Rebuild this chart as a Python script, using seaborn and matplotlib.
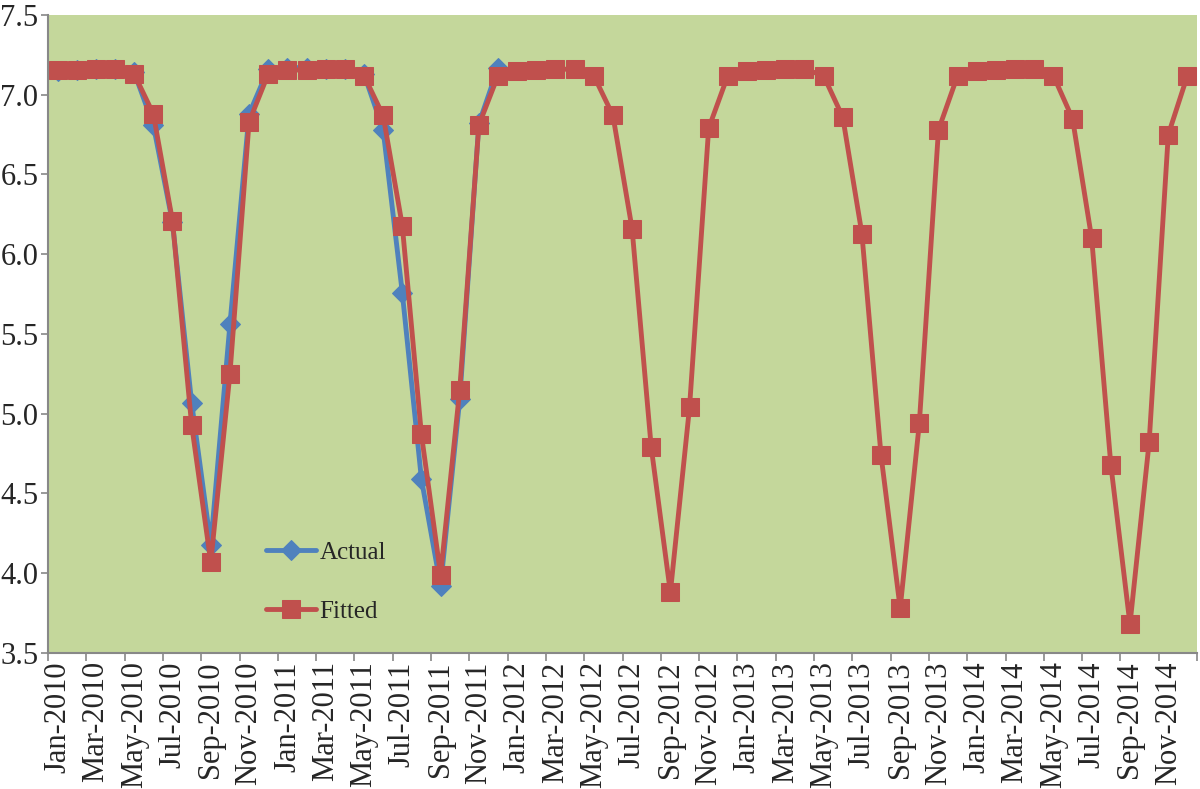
import numpy as np
import pandas as pd
import matplotlib
matplotlib.use('Agg')
import matplotlib.pyplot as plt
import seaborn as sns

months = pd.date_range('2010-01-01', '2014-12-01', freq='MS').strftime('%b-%Y').tolist()

actual = [7.15, 7.155, 7.16, 7.16, 7.14, 6.81, 6.20, 5.07, 4.18, 5.56, 6.88, 7.16,
          7.17, 7.17, 7.16, 7.16, 7.13, 6.78, 5.76, 4.59, 3.92, 5.09, 6.82, 7.17]

fitted = [7.155, 7.155, 7.16, 7.16, 7.13, 6.88, 6.21, 4.93, 4.07, 5.25, 6.83, 7.13,
          7.155, 7.155, 7.16, 7.16, 7.12, 6.87, 6.18, 4.87, 3.99, 5.15, 6.81, 7.12,
          7.15, 7.155, 7.16, 7.16, 7.12, 6.87, 6.16, 4.79, 3.88, 5.04, 6.79, 7.12,
          7.15, 7.155, 7.16, 7.16, 7.12, 6.86, 6.13, 4.74, 3.78, 4.94, 6.78, 7.12,
          7.15, 7.155, 7.16, 7.16, 7.12, 6.85, 6.10, 4.68, 3.68, 4.82, 6.75, 7.12]

df_act = pd.DataFrame({'idx': np.arange(len(actual)), 'value': actual})
df_fit = pd.DataFrame({'idx': np.arange(len(fitted)), 'value': fitted})

sns.set_style('white')
plt.rcParams['font.family'] = ['Liberation Serif', 'DejaVu Serif']

fig = plt.figure(figsize=(12, 7.89), dpi=100)
ax = fig.add_axes([0.04, 0.1724, 0.9575, 0.8086])
ax.set_facecolor('#C4D79B')

sns.lineplot(data=df_act, x='idx', y='value', ax=ax, color='#4F81BD', linewidth=3.5,
             marker='D', markersize=10, markeredgecolor='#4F81BD', label='Actual')
sns.lineplot(data=df_fit, x='idx', y='value', ax=ax, color='#C0504D', linewidth=3.5,
             marker='s', markersize=13, markeredgecolor='#C0504D', label='Fitted')

ax.set_xlim(-0.5, len(months) - 0.5)
ax.set_ylim(3.5, 7.5)
ax.set_yticks(np.arange(3.5, 7.51, 0.5))
ax.set_yticklabels([f'{v:.1f}' for v in np.arange(3.5, 7.51, 0.5)], fontsize=22)

ax.set_xticks(np.arange(0, len(months), 2))
ax.set_xticklabels(months[::2], rotation=90, fontsize=22)
ax.set_xticks(np.arange(-0.5, len(months), 2), minor=True)
ax.tick_params(axis='x', which='major', length=0, pad=6)
ax.tick_params(axis='x', which='minor', length=6, color='#888888', width=1.2, direction='out', bottom=True)
ax.tick_params(axis='y', length=5, color='#888888', width=1.2, direction='out', left=True, pad=2)

ax.set_xlabel('')
ax.set_ylabel('')
for s in ['top', 'right']:
    ax.spines[s].set_visible(False)
for s in ['left', 'bottom']:
    ax.spines[s].set_color('#888888')
    ax.spines[s].set_linewidth(1.5)

ax.legend(loc='upper left', bbox_to_anchor=(0.17, 0.21), frameon=False, fontsize=18,
          labelspacing=1.45, handlelength=2.0, handletextpad=0.15)

fig.savefig('out.png', dpi=100, facecolor='white')
